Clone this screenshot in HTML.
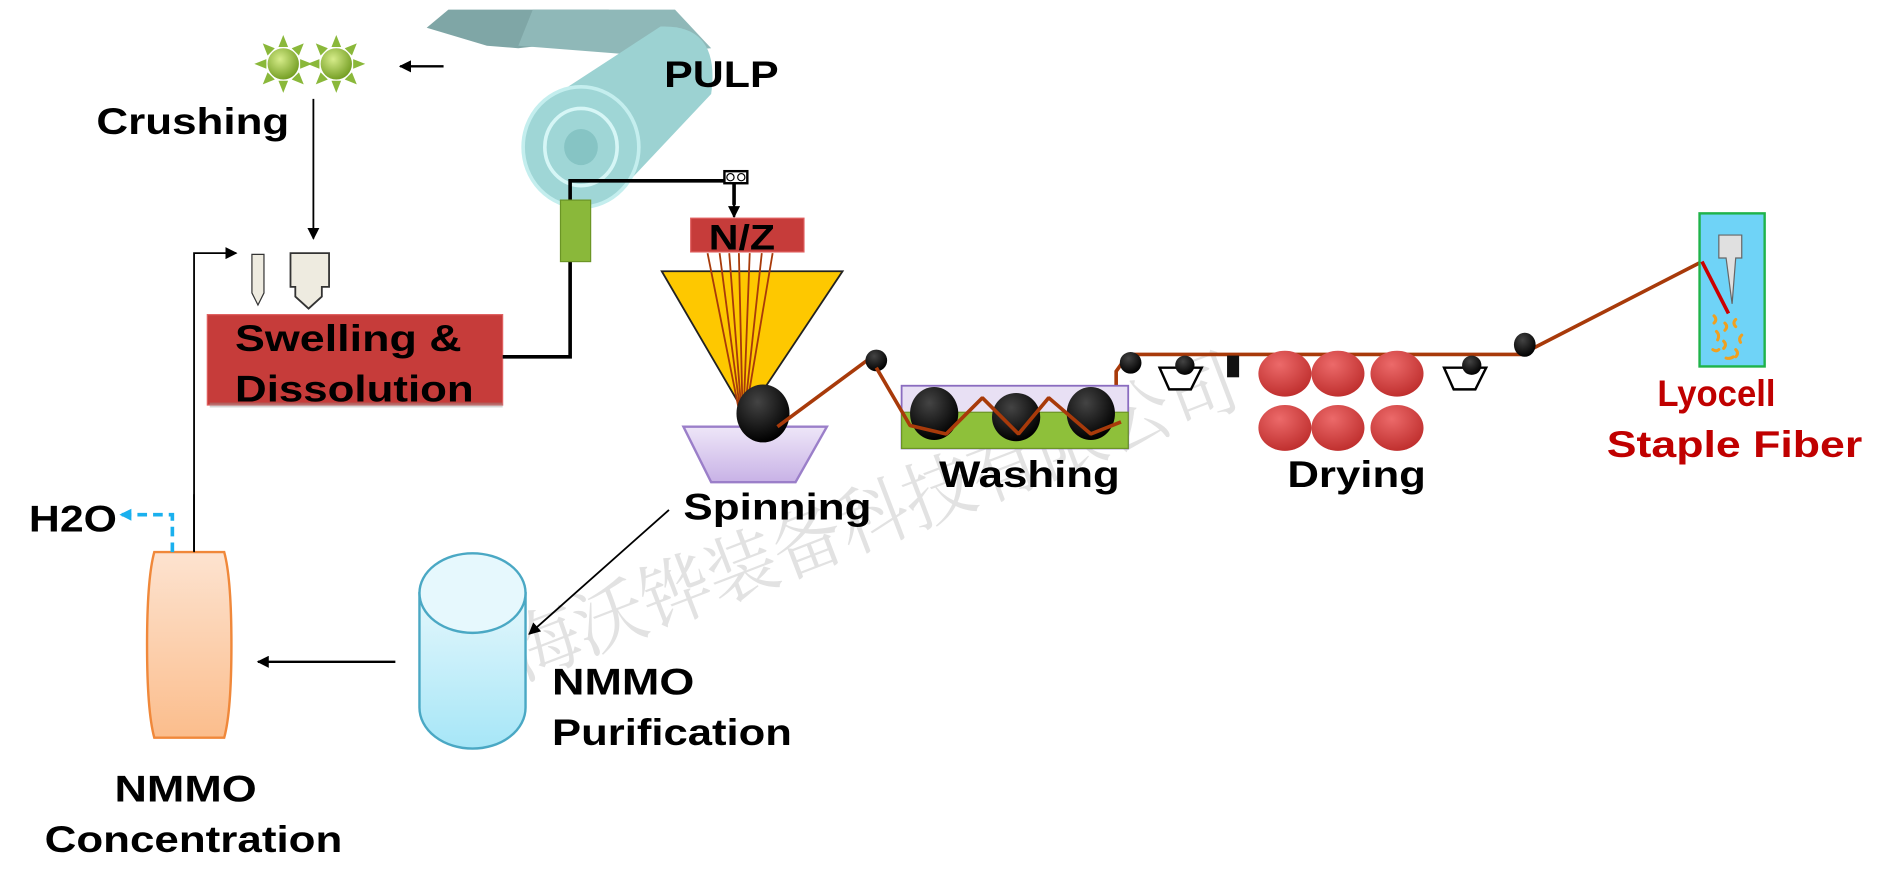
<!DOCTYPE html>
<html><head><meta charset="utf-8"><style>
html,body{margin:0;padding:0;background:#fff;}
svg{display:block;}
text{font-family:"Liberation Sans",sans-serif;font-weight:bold;}
</style></head><body>
<svg width="1890" height="886" viewBox="0 0 1568 735" preserveAspectRatio="none" xmlns="http://www.w3.org/2000/svg">
<defs>
<marker id="ar" markerWidth="10" markerHeight="10" refX="9" refY="5" orient="auto" markerUnits="userSpaceOnUse"><path d="M0,0 L10,5 L0,10 Z" fill="#000"/></marker>
<marker id="arb" markerWidth="10" markerHeight="10" refX="9" refY="5" orient="auto" markerUnits="userSpaceOnUse"><path d="M0,0 L10,5 L0,10 Z" fill="#1ab0ee"/></marker>
<radialGradient id="gball" cx="0.4" cy="0.35" r="0.7"><stop offset="0" stop-color="#d6ec8a"/><stop offset="1" stop-color="#6f9a1e"/></radialGradient>
<radialGradient id="rball" cx="0.4" cy="0.3" r="0.7"><stop offset="0" stop-color="#ec6a6a"/><stop offset="1" stop-color="#c0302f"/></radialGradient>
<radialGradient id="kball" cx="0.4" cy="0.3" r="0.7"><stop offset="0" stop-color="#444"/><stop offset="1" stop-color="#000"/></radialGradient>
<linearGradient id="cyl" x1="0" y1="0" x2="0" y2="1"><stop offset="0" stop-color="#e4f7fc"/><stop offset="1" stop-color="#a6e6f7"/></linearGradient>
<linearGradient id="org" x1="0" y1="0" x2="0" y2="1"><stop offset="0" stop-color="#fde3d0"/><stop offset="1" stop-color="#fbbd8c"/></linearGradient>
<linearGradient id="pur" x1="0" y1="0" x2="0" y2="1"><stop offset="0" stop-color="#eee6f8"/><stop offset="1" stop-color="#c8b2e6"/></linearGradient>
</defs>

<!-- watermark -->
<text x="378" y="585" transform="rotate(-21 378 585)" font-size="62" fill="#e2e2e2" style="font-weight:normal;font-family:'Noto Serif CJK SC',serif" textLength="700" lengthAdjust="spacingAndGlyphs">上海沃铧装备科技有限公司</text>

<!-- pulp roll -->
<polygon points="354,23 372,8 505,8 520,30 430,40 404,38" fill="#7fa6a6"/>
<polygon points="430,38 442,8 560,8 590,40 520,45" fill="#8fb8b8"/>
<path d="M462,78 L548,22 Q598,20 590,78 L508,165 Z" fill="#9cd2d2"/>
<ellipse cx="482" cy="122" rx="48" ry="50" fill="#9fd6d6" stroke="#c4eeee" stroke-width="3"/>
<ellipse cx="482" cy="122" rx="30" ry="32" fill="none" stroke="#d6f6f6" stroke-width="3"/>
<ellipse cx="482" cy="122" rx="14" ry="15" fill="#86c4c4"/>
<text x="551" y="72" font-size="31" textLength="95" lengthAdjust="spacingAndGlyphs">PULP</text>
<line x1="368" y1="55" x2="332" y2="55" stroke="#000" stroke-width="2" marker-end="url(#ar)"/>

<!-- crushing gears -->
<g transform="translate(235,53)"><g fill="#8ab83a">
<polygon points="0,-24 4,-14 -4,-14"/><polygon points="0,24 4,14 -4,14"/><polygon points="-24,0 -14,4 -14,-4"/><polygon points="24,0 14,4 14,-4"/>
<polygon points="-17,-17 -7,-13 -13,-7"/><polygon points="17,17 7,13 13,7"/><polygon points="17,-17 7,-13 13,-7"/><polygon points="-17,17 -7,13 -13,7"/></g>
<ellipse cx="0" cy="0" rx="13" ry="13" fill="url(#gball)"/></g>
<g transform="translate(279,53)"><g fill="#8ab83a">
<polygon points="0,-24 4,-14 -4,-14"/><polygon points="0,24 4,14 -4,14"/><polygon points="-24,0 -14,4 -14,-4"/><polygon points="24,0 14,4 14,-4"/>
<polygon points="-17,-17 -7,-13 -13,-7"/><polygon points="17,17 7,13 13,7"/><polygon points="17,-17 7,-13 13,-7"/><polygon points="-17,17 -7,13 -13,7"/></g>
<ellipse cx="0" cy="0" rx="13" ry="13" fill="url(#gball)"/></g>
<text x="80" y="111" font-size="31" textLength="160" lengthAdjust="spacingAndGlyphs">Crushing</text>
<line x1="260" y1="82" x2="260" y2="198" stroke="#000" stroke-width="1.5" marker-end="url(#ar)"/>

<!-- recycle line -->
<polyline points="161,458 161,210 196,210" fill="none" stroke="#000" stroke-width="1.5" marker-end="url(#ar)"/>

<!-- feeders -->
<polygon points="209,211 219,211 219,243 214,253 209,243" fill="#eeebe0" stroke="#333" stroke-width="1"/>
<polygon points="241,210 273,210 273,238 267,238 267,246 256,256 245,246 245,238 241,238" fill="#eeebe0" stroke="#333" stroke-width="1.5"/>

<!-- Swelling box -->
<rect x="172" y="261" width="245" height="75" fill="#c63c3a" stroke="#e06060" stroke-width="1"/>
<rect x="174" y="334" width="243" height="4" fill="#999" opacity="0.4"/>
<text x="195" y="291" font-size="31" textLength="188" lengthAdjust="spacingAndGlyphs">Swelling &amp;</text>
<text x="195" y="333" font-size="31" textLength="198" lengthAdjust="spacingAndGlyphs">Dissolution</text>

<!-- pipe -->
<polyline points="417,296 473,296 473,150 609,150 609,170" fill="none" stroke="#000" stroke-width="3"/>
<rect x="465" y="166" width="25" height="51" fill="#8ab83a" stroke="#6b9525"/>
<rect x="601" y="142" width="19" height="10" fill="#fff" stroke="#000" stroke-width="2"/>
<circle cx="606" cy="147" r="3" fill="#fff" stroke="#000"/><circle cx="615" cy="147" r="3" fill="#fff" stroke="#000"/>
<line x1="609" y1="152" x2="609" y2="180" stroke="#000" stroke-width="2" marker-end="url(#ar)"/>
<rect x="573" y="181" width="94" height="28" fill="#c63c3a" stroke="#e06060"/>
<text x="588" y="207" font-size="29" textLength="55" lengthAdjust="spacingAndGlyphs">N/Z</text>

<!-- cone -->
<polygon points="549,225 699,225 619,345" fill="#fec800" stroke="#222" stroke-width="1.5"/>
<g stroke="#a83a0a" stroke-width="1.5">
<line x1="587" y1="210" x2="613" y2="340"/><line x1="597" y1="210" x2="614" y2="340"/><line x1="605" y1="210" x2="615" y2="340"/>
<line x1="613" y1="210" x2="616" y2="340"/><line x1="622" y1="210" x2="617" y2="340"/><line x1="632" y1="210" x2="618" y2="340"/><line x1="641" y1="210" x2="619" y2="340"/>
</g>
<polygon points="567,354 686,354 660,400 590,400" fill="url(#pur)" stroke="#9b7fc9" stroke-width="2"/>
<ellipse cx="633" cy="343" rx="22" ry="24" fill="url(#kball)"/>
<text x="567" y="431" font-size="31" textLength="156" lengthAdjust="spacingAndGlyphs">Spinning</text>

<!-- fiber path -->
<polyline points="645,354 722,297" fill="none" stroke="#a83a0a" stroke-width="3"/>
<polyline points="926,350 926,308 936,294 1262,294 1412,217" fill="none" stroke="#a83a0a" stroke-width="3"/>
<circle cx="727" cy="299" r="9" fill="url(#kball)"/>

<!-- washing -->
<rect x="748" y="320" width="188" height="52" fill="#e8e0f4" stroke="#8a6cc0" stroke-width="1.5"/>
<rect x="748" y="342" width="188" height="30" fill="#8ec03a" stroke="#6b9525"/>
<ellipse cx="775" cy="343" rx="20" ry="22" fill="url(#kball)"/>
<ellipse cx="843" cy="346" rx="20" ry="20" fill="url(#kball)"/>
<ellipse cx="905" cy="343" rx="20" ry="22" fill="url(#kball)"/>
<polyline points="727,305 755,353 785,360 815,330 845,360 870,330 905,360 930,350" fill="none" stroke="#a83a0a" stroke-width="3" stroke-linejoin="bevel"/>
<text x="779" y="404" font-size="31" textLength="150" lengthAdjust="spacingAndGlyphs">Washing</text>
<circle cx="938" cy="301" r="9" fill="url(#kball)"/>

<!-- drying -->
<polygon points="962,305 997,305 988,323 970,323" fill="#fff" stroke="#000" stroke-width="2"/>
<circle cx="983" cy="303" r="8" fill="url(#kball)"/>
<rect x="1018" y="295" width="10" height="18" fill="#111"/>
<g fill="url(#rball)">
<ellipse cx="1066" cy="310" rx="22" ry="19"/><ellipse cx="1110" cy="310" rx="22" ry="19"/><ellipse cx="1159" cy="310" rx="22" ry="19"/>
<ellipse cx="1066" cy="355" rx="22" ry="19"/><ellipse cx="1110" cy="355" rx="22" ry="19"/><ellipse cx="1159" cy="355" rx="22" ry="19"/>
</g>
<polygon points="1198,305 1233,305 1224,323 1206,323" fill="#fff" stroke="#000" stroke-width="2"/>
<circle cx="1221" cy="303" r="8" fill="url(#kball)"/>
<text x="1068" y="404" font-size="31" textLength="115" lengthAdjust="spacingAndGlyphs">Drying</text>
<ellipse cx="1265" cy="286" rx="9" ry="10" fill="url(#kball)"/>

<!-- cutter -->
<rect x="1410" y="177" width="54" height="127" fill="#6fd3f7" stroke="#1fb34a" stroke-width="2"/>
<polygon points="1426,195 1445,195 1445,214 1440,214 1437,252 1432,214 1426,214" fill="#e0e0e0" stroke="#666"/>
<line x1="1412" y1="217" x2="1434" y2="260" stroke="#c00" stroke-width="3"/>
<g stroke="#f0a020" stroke-width="2.5" fill="none" stroke-linecap="round">
<path d="M1422,262 q3,3 0,6"/><path d="M1431,268 q3,3 0,6"/><path d="M1440,265 q-3,3 0,6"/><path d="M1424,275 q3,3 1,7"/>
<path d="M1445,278 q-3,3 -1,6"/><path d="M1430,283 q3,3 0,6"/><path d="M1421,290 q3,2 5,0"/><path d="M1440,290 q3,3 0,6"/><path d="M1432,297 q3,1 6,-1"/>
</g>
<text x="1375" y="337" font-size="31" fill="#c00000" textLength="98" lengthAdjust="spacingAndGlyphs">Lyocell</text>
<text x="1333" y="379" font-size="31" fill="#c00000" textLength="212" lengthAdjust="spacingAndGlyphs">Staple Fiber</text>

<!-- spinning to purification -->
<line x1="555" y1="423" x2="439" y2="526" stroke="#000" stroke-width="1.5" marker-end="url(#ar)"/>

<!-- purification cylinder -->
<path d="M348,492 L348,587 A44,34 0 0 0 436,587 L436,492 Z" fill="url(#cyl)" stroke="#4aa8c4" stroke-width="2"/>
<ellipse cx="392" cy="492" rx="44" ry="33" fill="#e6f8fd" stroke="#4aa8c4" stroke-width="2"/>
<text x="458" y="576" font-size="31" textLength="118" lengthAdjust="spacingAndGlyphs">NMMO</text>
<text x="458" y="618" font-size="31" textLength="199" lengthAdjust="spacingAndGlyphs">Purification</text>
<line x1="328" y1="549" x2="214" y2="549" stroke="#000" stroke-width="2" marker-end="url(#ar)"/>

<!-- concentration -->
<path d="M128,458 L186,458 Q192,480 192,535 Q192,590 186,612 L128,612 Q122,590 122,535 Q122,480 128,458 Z" fill="url(#org)" stroke="#f0883a" stroke-width="2"/>
<line x1="161" y1="458" x2="161" y2="410" stroke="#000" stroke-width="1.5"/>
<polyline points="143,458 143,427 100,427" fill="none" stroke="#1ab0ee" stroke-width="3" stroke-dasharray="8,5" marker-end="url(#arb)"/>
<text x="24" y="441" font-size="31" textLength="73" lengthAdjust="spacingAndGlyphs">H2O</text>
<text x="95" y="665" font-size="31" textLength="118" lengthAdjust="spacingAndGlyphs">NMMO</text>
<text x="37" y="707" font-size="31" textLength="247" lengthAdjust="spacingAndGlyphs">Concentration</text>
</svg>
</body></html>
